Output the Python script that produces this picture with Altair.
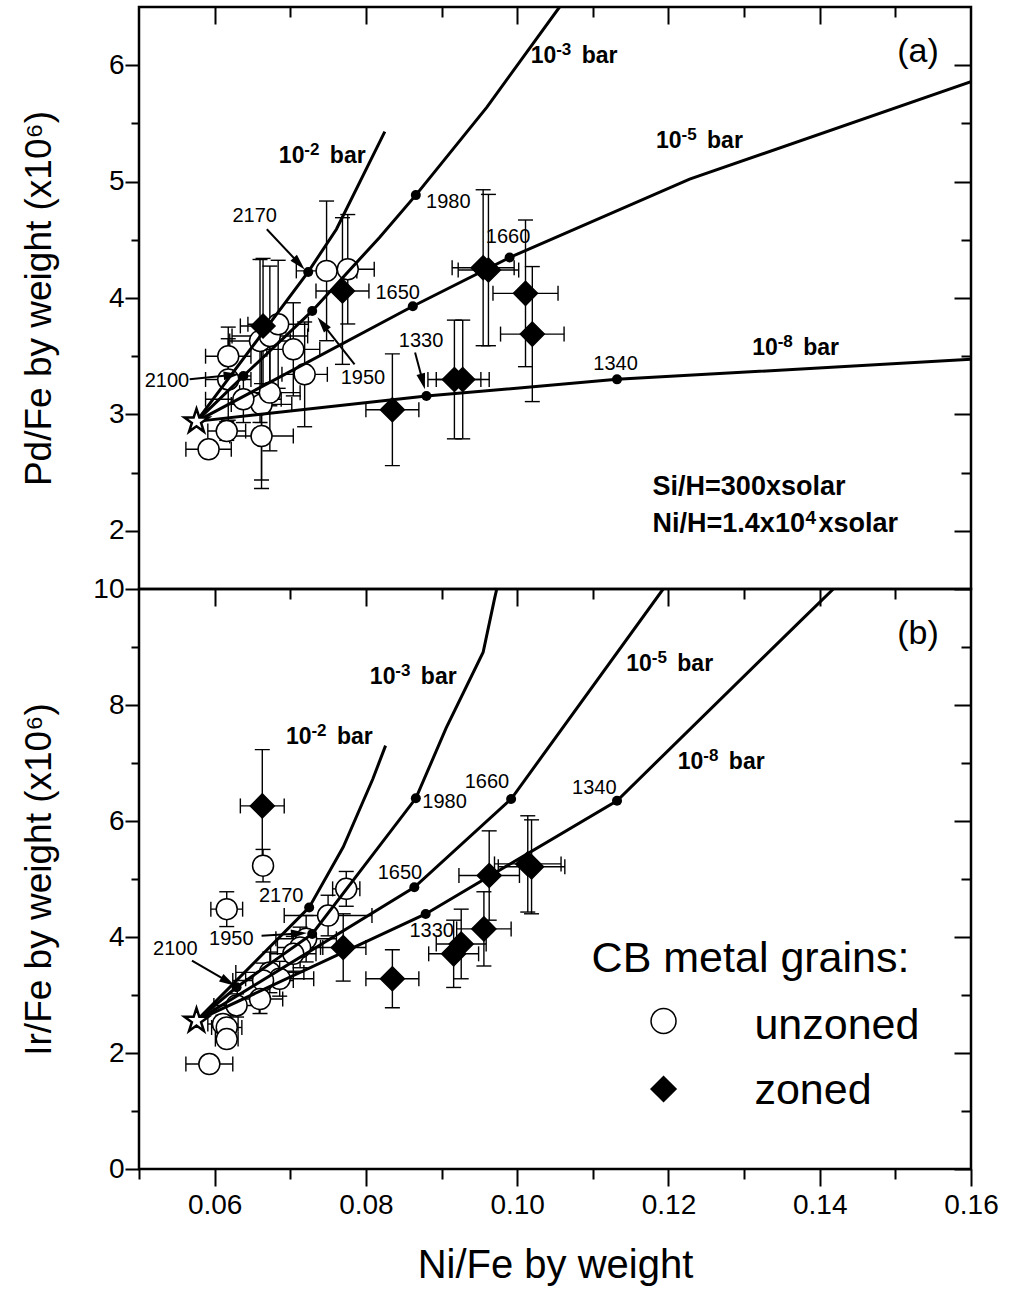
import math
import altair as alt
import pandas as pd

FONT = "Liberation Sans, Arial, DejaVu Sans"
W = 832
HA = 582
HB = 580
X_DOM = [0.05, 0.16]
YA_DOM = [1.5, 6.5]
YB_DOM = [0.0, 10.0]
TYPES = ["unzoned", "zoned"]

# ---------------- panel (a): Pd/Fe ----------------
a_un_x = [0.0592, 0.0616, 0.0662, 0.0662, 0.0638, 0.0673, 0.0618, 0.0618, 0.0719, 0.0704, 0.0660, 0.0673, 0.0684, 0.0748, 0.0776]
a_un_y = [2.70, 2.857, 2.814, 3.086, 3.13, 3.187, 3.30, 3.50, 3.344, 3.559, 3.631, 3.674, 3.774, 4.233, 4.247]
a_un_xe = [0.003, 0.0025, 0.0042, 0.004, 0.005, 0.004, 0.003, 0.003, 0.003, 0.0035, 0.004, 0.005, 0.004, 0.004, 0.0035]
a_un_ye = [0.05, 0.08, 0.45, 0.65, 0.2, 0.5, 0.35, 0.25, 0.45, 0.4, 0.7, 0.6, 0.55, 0.6, 0.47]

a_z_x = [0.0664, 0.0769, 0.0955, 0.0962, 0.1011, 0.1020, 0.0917, 0.0928, 0.0835]
a_z_y = [3.76, 4.06, 4.26, 4.24, 4.04, 3.69, 3.30, 3.30, 3.04]
a_z_xe = [0.003, 0.0035, 0.0041, 0.0040, 0.0043, 0.0042, 0.0035, 0.0035, 0.0035]
a_z_ye = [0.58, 0.63, 0.67, 0.65, 0.63, 0.58, 0.51, 0.51, 0.48]

a_star = (0.0576, 2.94)
a_curves = {
    "1e-2": [(0.0576, 2.94), (0.07237, 4.224), (0.0761, 4.591), (0.0825, 5.43)],
    "1e-3": [(0.0576, 2.94), (0.0638, 3.33), (0.0729, 3.889), (0.0818, 4.52), (0.0866, 4.884), (0.096, 5.64), (0.1056, 6.5)],
    "1e-5": [(0.0576, 2.94), (0.0862, 3.929), (0.0990, 4.348), (0.1228, 5.021), (0.16, 5.858)],
    "1e-8": [(0.0576, 2.94), (0.0880, 3.158), (0.1132, 3.301), (0.16, 3.473)],
}
a_dot_x = [0.07237, 0.0638, 0.0729, 0.0866, 0.0862, 0.0990, 0.0880, 0.1132]
a_dot_y = [4.224, 3.33, 3.889, 4.884, 3.929, 4.348, 3.158, 3.301]
a_temp_t = ["2170", "1950", "2100", "1650", "1980", "1660", "1330", "1340"]
a_temp_x = [0.0653, 0.0796, 0.0537, 0.0842, 0.0909, 0.0988, 0.0873, 0.1130]
a_temp_y = [4.706, 3.316, 3.287, 4.047, 4.821, 4.52, 3.631, 3.43]
a_lab_sup = ["-2", "-3", "-5", "-8"]
a_lab_x = [0.06849, 0.10178, 0.11836, 0.13107]   # left edge of "10"
a_lab_y = [5.22, 6.08, 5.35, 3.574]
a_arrows = [(0.0669, 4.591, 0.0719, 4.245), (0.0785, 3.430, 0.0736, 3.834),
            (0.0567, 3.301, 0.0633, 3.345), (0.0865, 3.531, 0.0878, 3.216)]
a_note1 = "Si/H=300xsolar"
a_note2 = ["Ni/H=1.4x10", "4", "xsolar"]
a_note_x = 0.1179
a_note_y = [2.373, 2.055]

# ---------------- panel (b): Ir/Fe ----------------
b_un_x = [0.0664, 0.0616, 0.0774, 0.0750, 0.0721, 0.0713, 0.0704, 0.0673, 0.0686, 0.0664, 0.0660, 0.0629, 0.0611, 0.0616, 0.0616, 0.0593]
b_un_y = [5.23, 4.48, 4.83, 4.37, 3.97, 3.82, 3.71, 3.39, 3.28, 3.25, 2.93, 2.82, 2.50, 2.44, 2.24, 1.81]
b_un_xe = [0.001, 0.0021, 0.0018, 0.0058, 0.004, 0.003, 0.003, 0.0045, 0.0045, 0.004, 0.003, 0.003, 0.002, 0.002, 0.0015, 0.0031]
b_un_ye = [0.28, 0.3, 0.3, 0.35, 0.4, 0.35, 0.3, 0.35, 0.3, 0.3, 0.25, 0.2, 0.15, 0.2, 0.1, 0.12]

b_z_x = [0.0663, 0.0770, 0.0835, 0.0963, 0.1014, 0.1019, 0.0956, 0.0916, 0.0926]
b_z_y = [6.26, 3.82, 3.28, 5.06, 5.26, 5.21, 4.14, 3.71, 3.88]
b_z_xe = [0.0029, 0.003, 0.0035, 0.004, 0.0044, 0.0044, 0.0036, 0.0033, 0.0033]
b_z_ye = [0.97, 0.58, 0.5, 0.77, 0.83, 0.81, 0.64, 0.58, 0.6]

b_star = (0.0576, 2.557)
b_curves = {
    "1e-2": [(0.0576, 2.557), (0.0725, 4.51), (0.0770, 5.55), (0.0809, 6.72), (0.0826, 7.3)],
    "1e-3": [(0.0576, 2.557), (0.0629, 3.133), (0.0729, 4.052), (0.0866, 6.391), (0.0906, 7.60), (0.0955, 8.91), (0.0970, 9.83), (0.0973, 10.0)],
    "1e-5": [(0.0576, 2.557), (0.0864, 4.857), (0.0992, 6.379), (0.1193, 10.0)],
    "1e-8": [(0.0576, 2.557), (0.0879, 4.397), (0.1132, 6.35), (0.1373, 9.43), (0.1418, 10.0)],
}
b_dot_x = [0.0725, 0.0629, 0.0729, 0.0866, 0.0864, 0.0992, 0.0879, 0.1132]
b_dot_y = [4.51, 3.133, 4.052, 6.391, 4.857, 6.379, 4.397, 6.35]
b_temp_t = ["2170", "1950", "2100", "1650", "1980", "1660", "1330", "1340"]
b_temp_x = [0.0688, 0.0622, 0.0548, 0.0845, 0.0904, 0.0960, 0.0887, 0.1102]
b_temp_y = [4.712, 3.966, 3.793, 5.098, 6.322, 6.667, 4.109, 6.563]
b_lab_sup = ["-2", "-3", "-5", "-8"]
b_lab_x = [0.06942, 0.08052, 0.11443, 0.12124]
b_lab_y = [7.45, 8.48, 8.71, 7.01]
b_arrows = [(0.0570, 3.591, 0.0627, 3.16), (0.0662, 4.022, 0.0722, 4.069)]

# legend of panel (b)
leg_title = "CB metal grains:"
leg_title_x, leg_title_y = 0.10984, 3.397
leg_sym_x = 0.11935
leg_sym_y = [2.552, 1.379]
leg_lab_x = 0.13137
leg_lab_y = [2.241, 1.121]

STAR = ("M0,-1L0.2245,-0.309L0.9511,-0.309L0.3633,0.118L0.5878,0.809L0,0.382"
        "L-0.5878,0.809L-0.3633,0.118L-0.9511,-0.309L-0.2245,-0.309Z")
HEAD = "M0,-1L0.55,1L-0.55,1Z"
MAJ, MIN = 17, 10


def points_df(xs, ys, xes, yes, kind):
    df = pd.DataFrame({"x": xs, "y": ys, "xe": xes, "ye": yes})
    df["type"] = kind
    df["xlo"] = df.x - df.xe
    df["xhi"] = df.x + df.xe
    df["ylo"] = df.y - df.ye
    df["yhi"] = df.y + df.ye
    return df


def build_panel(pts, star, curves, dot_x, dot_y, temps, labs, arrows, tag, tag_y,
                notes, legend, ydom, h, y_major, y_minor, ytitle, bottom):
    xs = alt.Scale(domain=X_DOM, nice=False, zero=False)
    ys = alt.Scale(domain=ydom, nice=False, zero=False)
    kx = W / (X_DOM[1] - X_DOM[0])
    ky = h / (ydom[1] - ydom[0])
    shape_sc = alt.Scale(domain=TYPES, range=["circle", "diamond"])
    fill_sc = alt.Scale(domain=TYPES, range=["white", "black"])

    def X(f):
        return alt.X(f, type="quantitative", scale=xs, axis=None)

    def Y(f):
        return alt.Y(f, type="quantitative", scale=ys, axis=None)

    layers = []
    base = alt.Chart(pts)
    layers.append(base.mark_rule(color="black", strokeWidth=1.4).encode(x=X("x"), y=Y("ylo"), y2="yhi"))
    layers.append(base.mark_rule(color="black", strokeWidth=1.4).encode(y=Y("y"), x=X("xlo"), x2="xhi"))
    vc = pd.concat([pd.DataFrame({"x": pts.x, "y": pts.ylo}), pd.DataFrame({"x": pts.x, "y": pts.yhi})])
    hc = pd.concat([pd.DataFrame({"x": pts.xlo, "y": pts.y}), pd.DataFrame({"x": pts.xhi, "y": pts.y})])
    layers.append(alt.Chart(vc).mark_tick(orient="horizontal", size=15, thickness=1.4, color="black", opacity=1)
                  .encode(x=X("x"), y=Y("y")))
    layers.append(alt.Chart(hc).mark_tick(orient="vertical", size=15, thickness=1.4, color="black", opacity=1)
                  .encode(x=X("x"), y=Y("y")))
    layers.append(base.mark_point(filled=True, stroke="black", strokeWidth=1.5, opacity=1).encode(
        x=X("x"), y=Y("y"),
        shape=alt.Shape("type:N", scale=shape_sc, legend=None),
        fill=alt.Fill("type:N", scale=fill_sc, legend=None),
        size=alt.Size("type:N", scale=alt.Scale(domain=TYPES, range=[440, 576]), legend=None),
        order=alt.Order("type:N"),
    ))
    rows = []
    for name, pl in curves.items():
        for i, (cx, cy) in enumerate(pl):
            rows.append({"curve": name, "i": i, "x": cx, "y": cy})
    layers.append(alt.Chart(pd.DataFrame(rows)).mark_line(color="black", strokeWidth=3, clip=True).encode(
        x=X("x"), y=Y("y"), detail="curve:N", order="i:Q"))
    layers.append(alt.Chart(pd.DataFrame({"x": [star[0]], "y": [star[1]]})).mark_point(
        shape=STAR, size=640, filled=True, fill="white", stroke="black", strokeWidth=2.5, opacity=1
    ).encode(x=X("x"), y=Y("y")))
    layers.append(alt.Chart(pd.DataFrame({"x": dot_x, "y": dot_y})).mark_circle(size=100, color="black", opacity=1)
                  .encode(x=X("x"), y=Y("y")))
    # arrows
    sh, hd = [], []
    for (x0, y0, x1, y1) in arrows:
        dx = (x1 - x0) * kx
        dy = -(y1 - y0) * ky
        L = math.hypot(dx, dy)
        ux, uy = dx / L, dy / L
        ang = math.degrees(math.atan2(ux, -uy)) % 360
        hx = x1 - ux * 8 / kx
        hy = y1 + uy * 8 / ky
        sh.append({"x": x0, "y": y0, "x2": hx, "y2": hy})
        hd.append({"x": hx, "y": hy, "ang": ang})
    layers.append(alt.Chart(pd.DataFrame(sh)).mark_rule(color="black", strokeWidth=2).encode(
        x=X("x"), y=Y("y"), x2="x2", y2="y2"))
    layers.append(alt.Chart(pd.DataFrame(hd)).mark_point(shape=HEAD, size=256, filled=True, color="black", opacity=1)
                  .encode(x=X("x"), y=Y("y"), angle=alt.Angle("ang:Q", scale=None)))
    layers.append(alt.Chart(pd.DataFrame({"t": temps[0], "x": temps[1], "y": temps[2]})).mark_text(
        fontSize=20, color="black").encode(x=X("x"), y=Y("y"), text="t:N"))

    # bold labels with real superscripts: pieces offset in pixels from a left anchor
    pieces = []
    for sup, lx, ly in zip(*labs):
        pieces.append({"t": "10", "x": lx, "y": ly, "fs": 23})
        pieces.append({"t": sup, "x": lx + 25.5 / kx, "y": ly + 6 / ky, "fs": 17})
        pieces.append({"t": "bar", "x": lx + 51 / kx, "y": ly, "fs": 23})
    if notes is not None:
        n1, n2, nx, ny = notes
        pieces.append({"t": n1, "x": nx, "y": ny[0], "fs": 27})
        pieces.append({"t": n2[0], "x": nx, "y": ny[1], "fs": 27})
        pieces.append({"t": n2[1], "x": nx + 153 / kx, "y": ny[1] + 6 / ky, "fs": 19})
        pieces.append({"t": n2[2], "x": nx + 166 / kx, "y": ny[1], "fs": 27})
    layers.append(alt.Chart(pd.DataFrame(pieces)).mark_text(
        fontWeight="bold", color="black", align="left", baseline="middle"
    ).encode(x=X("x"), y=Y("y"), text="t:N", size=alt.Size("fs:Q", scale=None)))

    layers.append(alt.Chart(pd.DataFrame({"t": [tag], "x": [0.1530], "y": [tag_y]})).mark_text(
        fontSize=34, color="black").encode(x=X("x"), y=Y("y"), text="t:N"))

    if legend is not None:
        ltitle, ltx, lty, sx, sy, lx, ly = legend
        layers.append(alt.Chart(pd.DataFrame({"t": [ltitle], "x": [ltx], "y": [lty]})).mark_text(
            fontSize=43, color="black", align="left", baseline="alphabetic"
        ).encode(x=X("x"), y=Y("y"), text="t:N"))
        layers.append(alt.Chart(pd.DataFrame({"type": TYPES, "x": [sx, sx], "y": sy})).mark_point(
            filled=True, stroke="black", strokeWidth=1.5, opacity=1, size=625
        ).encode(x=X("x"), y=Y("y"),
                 shape=alt.Shape("type:N", scale=shape_sc, legend=None),
                 fill=alt.Fill("type:N", scale=fill_sc, legend=None)))
        layers.append(alt.Chart(pd.DataFrame({"t": TYPES, "x": [lx, lx], "y": ly})).mark_text(
            fontSize=43, color="black", align="left", baseline="alphabetic"
        ).encode(x=X("x"), y=Y("y"), text="t:N"))

    # axes (frame ticks)
    adf = pd.DataFrame({"x": [X_DOM[0]], "y": [ydom[0]]})
    x_major = [0.06, 0.08, 0.10, 0.12, 0.14, 0.16]
    x_minor = [0.05, 0.07, 0.09, 0.11, 0.13, 0.15]

    def axl(xax, yax):
        return alt.Chart(adf).mark_point(opacity=0).encode(
            x=alt.X("x:Q", scale=xs, axis=xax), y=alt.Y("y:Q", scale=ys, axis=yax))

    left_major = alt.Axis(orient="left", values=y_major, format="d", tickSize=14, labelPadding=1,
                          title=ytitle, titleX=-81)
    left_minor = alt.Axis(orient="left", values=y_minor, tickSize=8, labels=False, title=None)
    right_major = alt.Axis(orient="right", values=y_major, tickSize=MAJ, offset=-MAJ, labels=False, title=None)
    right_minor = alt.Axis(orient="right", values=y_minor, tickSize=MIN, offset=-MIN, labels=False, title=None)
    top_major = alt.Axis(orient="top", values=x_major[:-1], tickSize=MAJ, offset=-MAJ, labels=False, title=None)
    top_minor = alt.Axis(orient="top", values=x_minor[1:], tickSize=MIN, offset=-MIN, labels=False, title=None)
    if bottom:
        bot_major = alt.Axis(orient="bottom", values=x_major, format=".2f", tickSize=MAJ, labelPadding=5,
                             title="Ni/Fe by weight", titlePadding=26, titleFontSize=40)
        bot_minor = alt.Axis(orient="bottom", values=x_minor, tickSize=MIN, labels=False, title=None)
    else:
        bot_major = None
        bot_minor = None
    layers.append(axl(bot_major, left_major))
    layers.append(axl(bot_minor, left_minor))
    layers.append(axl(top_major, right_major))
    layers.append(axl(top_minor, right_minor))
    return alt.layer(*layers).properties(width=W, height=h).resolve_axis(x="independent", y="independent")


pts_a = pd.concat([points_df(a_un_x, a_un_y, a_un_xe, a_un_ye, "unzoned"),
                   points_df(a_z_x, a_z_y, a_z_xe, a_z_ye, "zoned")], ignore_index=True)
pts_b = pd.concat([points_df(b_un_x, b_un_y, b_un_xe, b_un_ye, "unzoned"),
                   points_df(b_z_x, b_z_y, b_z_xe, b_z_ye, "zoned")], ignore_index=True)

panel_a = build_panel(pts_a, a_star, a_curves, a_dot_x, a_dot_y,
                      (a_temp_t, a_temp_x, a_temp_y), (a_lab_sup, a_lab_x, a_lab_y), a_arrows,
                      "(a)", 6.11, (a_note1, a_note2, a_note_x, a_note_y), None,
                      YA_DOM, HA, [2, 3, 4, 5, 6], [2.5, 3.5, 4.5, 5.5],
                      "Pd/Fe by weight (x10\u2076)", False)
panel_b = build_panel(pts_b, b_star, b_curves, b_dot_x, b_dot_y,
                      (b_temp_t, b_temp_x, b_temp_y), (b_lab_sup, b_lab_x, b_lab_y), b_arrows,
                      "(b)", 9.22, None,
                      (leg_title, leg_title_x, leg_title_y, leg_sym_x, leg_sym_y, leg_lab_x, leg_lab_y),
                      YB_DOM, HB, [0, 2, 4, 6, 8, 10], [1, 3, 5, 7, 9],
                      "Ir/Fe by weight (x10\u2076)", True)

chart = alt.vconcat(panel_a, panel_b, spacing=0, bounds="flush").properties(
    padding={"left": 18, "top": 4, "right": 5, "bottom": 5}
).configure_view(
    stroke="black", strokeWidth=2.5
).configure_axis(
    labelFont=FONT, titleFont=FONT, labelFontSize=28, titleFontSize=37, titleFontWeight="normal",
    labelColor="black", titleColor="black", tickColor="black", tickWidth=2, domain=False, grid=False,
    labelFlush=False
).configure_text(font=FONT)

chart.save("out.html", embed_options={"renderer": "svg", "actions": False})
